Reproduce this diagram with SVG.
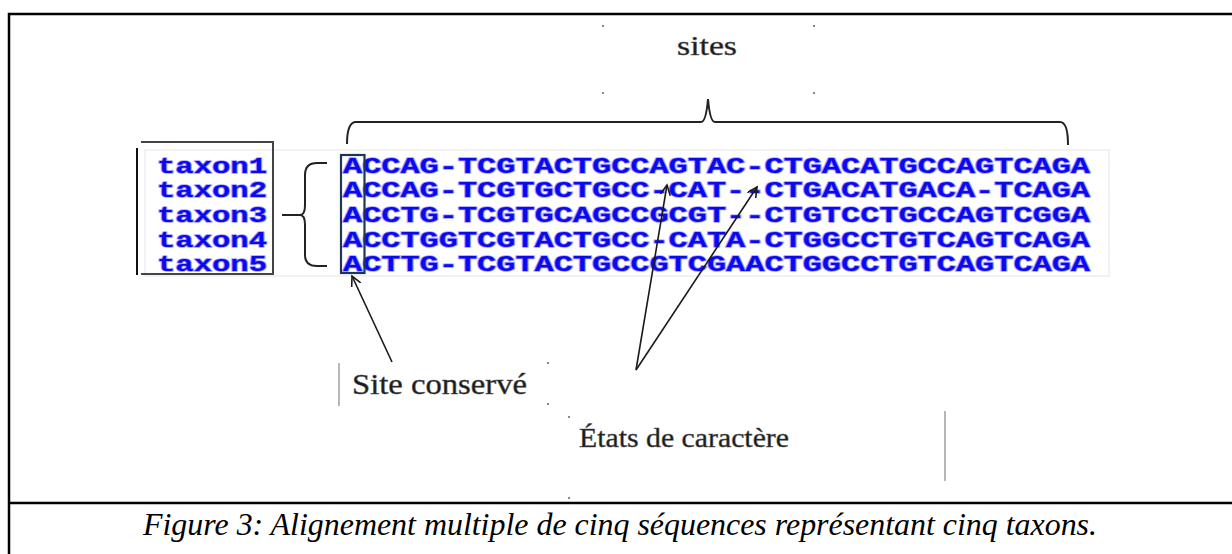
<svg xmlns="http://www.w3.org/2000/svg" width="1232" height="554" viewBox="0 0 1232 554">
<defs>
<style>
.frame{stroke:#000;stroke-width:2.5;fill:none}
.seq{font-family:"Liberation Mono",monospace;font-weight:bold;font-size:22px;fill:#0a0af0;stroke:#a9a0ff;stroke-width:1.6;paint-order:stroke;stroke-linejoin:round}
.lbl{font-family:"Liberation Serif",serif;fill:#1a1a1a;stroke:#555;stroke-width:0.5}
.thin{stroke:#888;stroke-width:1.2;fill:none}
.dot{fill:#888}
.arr{stroke:#1a1a1a;stroke-width:1.6;fill:none}
.brace{stroke:#222;stroke-width:2;fill:none}
</style>
<marker id="ah" markerWidth="12" markerHeight="12" refX="10" refY="5" orient="auto" markerUnits="userSpaceOnUse">
<path d="M0,0 L10,5 L0,10" fill="none" stroke="#1a1a1a" stroke-width="1.6"/>
</marker>
</defs>
<rect width="1232" height="554" fill="#fff"/>
<g id="frame">
<path class="frame" d="M9,554 V14 H1232"/>
<path class="frame" d="M9,503 H1232"/>
</g>
<g id="alignment-bg">
<rect x="145" y="150" width="964" height="126" fill="#fff" stroke="#eeeeee" stroke-width="1.5"/>
</g>
<g id="taxa">
<path d="M141,142 H273 V274 H141" fill="none" stroke="#444" stroke-width="2"/>
<path d="M137,148 V275" stroke="#111" stroke-width="2"/>
<text class="seq" x="157" y="172.5" textLength="110" lengthAdjust="spacingAndGlyphs">taxon1</text>
<text class="seq" x="157" y="197" textLength="110" lengthAdjust="spacingAndGlyphs">taxon2</text>
<text class="seq" x="157" y="221.5" textLength="110" lengthAdjust="spacingAndGlyphs">taxon3</text>
<text class="seq" x="157" y="246.5" textLength="110" lengthAdjust="spacingAndGlyphs">taxon4</text>
<text class="seq" x="157" y="271" textLength="110" lengthAdjust="spacingAndGlyphs">taxon5</text>
</g>
<g id="sequences">
<text class="seq" x="343" y="172.5" textLength="747" lengthAdjust="spacingAndGlyphs">ACCAG-TCGTACTGCCAGTAC-CTGACATGCCAGTCAGA</text>
<text class="seq" x="343" y="197" textLength="747" lengthAdjust="spacingAndGlyphs">ACCAG-TCGTGCTGCC-CAT--CTGACATGACA-TCAGA</text>
<text class="seq" x="343" y="221.5" textLength="747" lengthAdjust="spacingAndGlyphs">ACCTG-TCGTGCAGCCGCGT--CTGTCCTGCCAGTCGGA</text>
<text class="seq" x="343" y="246.5" textLength="747" lengthAdjust="spacingAndGlyphs">ACCTGGTCGTACTGCC-CATA-CTGGCCTGTCAGTCAGA</text>
<text class="seq" x="343" y="271" textLength="747" lengthAdjust="spacingAndGlyphs">ACTTG-TCGTACTGCCGTCGAACTGGCCTGTCAGTCAGA</text>
<rect x="341" y="155" width="23.5" height="118" fill="none" stroke="#1d3656" stroke-width="2.2"/>
</g>
<g id="sites-label">
<rect class="dot" x="602" y="25" width="2" height="2"/>
<rect class="dot" x="602" y="92" width="2" height="2"/>
<rect class="dot" x="813" y="25" width="2" height="2"/>
<rect class="dot" x="813" y="92" width="2" height="2"/>
<text class="lbl" x="677" y="55" font-size="28" textLength="60" lengthAdjust="spacingAndGlyphs">sites</text>
</g>
<g id="site-conserve">
<path class="thin" d="M339,363 V406"/>
<rect class="dot" x="547" y="362" width="2" height="2"/>
<rect class="dot" x="547" y="403" width="2" height="2"/>
<text class="lbl" x="352" y="394" font-size="29" textLength="175" lengthAdjust="spacingAndGlyphs">Site conservé</text>
</g>
<g id="etats">
<path class="thin" d="M945,411 V481"/>
<rect class="dot" x="568" y="416" width="2" height="2"/>
<rect class="dot" x="568" y="497" width="2" height="2"/>
<text class="lbl" x="579" y="447" font-size="28" textLength="210" lengthAdjust="spacingAndGlyphs">États de caractère</text>
</g>
<g id="caption">
<text x="143" y="535" font-family="Liberation Serif, serif" font-style="italic" font-size="31" fill="#000" textLength="954" lengthAdjust="spacingAndGlyphs">Figure 3: Alignement multiple de cinq séquences représentant cinq taxons.</text>
</g>
<g id="connectors">
<path class="brace" d="M347,144 Q347,122 356,122 H701 Q706,122 708,99 Q710,122 715,122 H1060 Q1068,122 1068,145"/>
<path class="brace" d="M282,215 H300 Q305,215 305,205 V175 Q305,163 317,163 H327 M300,215 Q305,215 305,225 V255 Q305,266 317,266 H327"/>
<line class="arr" x1="392" y1="362" x2="352" y2="276" marker-end="url(#ah)"/>
<line class="arr" x1="636" y1="370" x2="667" y2="185" marker-end="url(#ah)"/>
<line class="arr" x1="636" y1="370" x2="757" y2="187" marker-end="url(#ah)"/>
</g>
</svg>
